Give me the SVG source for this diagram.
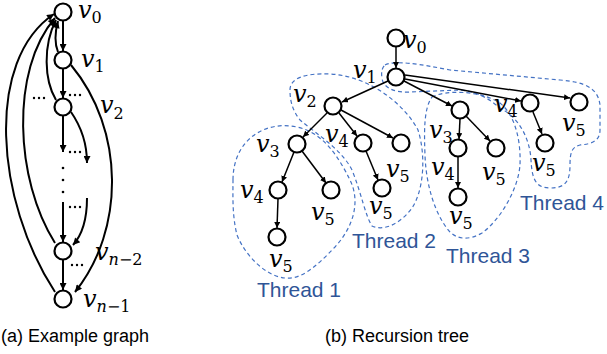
<svg xmlns="http://www.w3.org/2000/svg" width="607" height="354" viewBox="0 0 607 354">
<style>
.n{fill:#fff;stroke:#000;stroke-width:2.2}
.e{fill:none;stroke:#000;stroke-width:2}
.te{fill:none;stroke:#000;stroke-width:1.5}
.v{font-family:"DejaVu Serif",serif;font-style:italic;font-size:24px;fill:#000}
.s{font-style:normal;font-size:16px}
.si{font-style:italic;font-size:16px}
.th{fill:none;stroke:#4472C4;stroke-width:1.2;stroke-dasharray:4 3}
.tl{font-family:"Liberation Sans",Arial,sans-serif;font-size:21px;fill:#2F5597}
.cap{font-family:"Liberation Sans",Arial,sans-serif;font-size:18px;fill:#000}
.dot{fill:#000}
</style>
<defs>
<marker id="a" viewBox="0 0 10 10" refX="10" refY="5" markerWidth="9" markerHeight="7" markerUnits="userSpaceOnUse" orient="auto"><path d="M0,0 L10,5 L0,10 Z" fill="#000"/></marker>
<marker id="b" viewBox="0 0 10 10" refX="10" refY="5" markerWidth="6" markerHeight="6" markerUnits="userSpaceOnUse" orient="auto"><path d="M0,0 L10,5 L0,10 Z" fill="#000"/></marker>
</defs>

<!-- (a) Example graph -->
<g id="connectors-a">
<path class="e" d="M63,21 L63,51" marker-end="url(#a)"/>
<path class="e" d="M63,69 L63,98" marker-end="url(#a)"/>
<path class="e" d="M63,116 L63,152" marker-end="url(#a)"/>
<path class="e" d="M63,202 L63,242" marker-end="url(#a)"/>
<path class="e" d="M63,260 L63,290" marker-end="url(#a)"/>
<path class="e" d="M58,52 C54,42 55,32 58,21" marker-end="url(#a)"/>
<path class="e" d="M56,100 C44,80 43,45 56,20" marker-end="url(#a)"/>
<path class="e" d="M55,243 C15,180 10,70 55,18" marker-end="url(#a)"/>
<path class="e" d="M55,292 C-5,200 -15,60 54,14" marker-end="url(#a)"/>
<path class="e" d="M71,65 C125,130 125,230 75,292" marker-end="url(#a)"/>
<path class="e" d="M71,112 C80,125 87,140 87,163" marker-end="url(#a)"/>
<path class="e" d="M87,198 C87,220 82,235 73,245" marker-end="url(#a)"/>
</g>
<g id="dots-a">
<circle class="dot" cx="34" cy="98" r="1.2"/><circle class="dot" cx="39" cy="98" r="1.2"/><circle class="dot" cx="44" cy="98" r="1.2"/>
<circle class="dot" cx="70" cy="95" r="1.2"/><circle class="dot" cx="75" cy="95" r="1.2"/><circle class="dot" cx="80" cy="95" r="1.2"/>
<circle class="dot" cx="70" cy="152" r="1.2"/><circle class="dot" cx="75" cy="152" r="1.2"/><circle class="dot" cx="80" cy="152" r="1.2"/>
<circle class="dot" cx="63" cy="168" r="1.3"/><circle class="dot" cx="63" cy="180" r="1.3"/><circle class="dot" cx="63" cy="192" r="1.3"/>
<circle class="dot" cx="70" cy="207" r="1.2"/><circle class="dot" cx="75" cy="207" r="1.2"/><circle class="dot" cx="80" cy="207" r="1.2"/>
<circle class="dot" cx="72" cy="265" r="1.2"/><circle class="dot" cx="77" cy="265" r="1.2"/><circle class="dot" cx="82" cy="265" r="1.2"/>
</g>
<g id="a-v0"><circle class="n" cx="63" cy="12" r="8.5"/><text class="v" x="78" y="18">v<tspan class="s" dy="5">0</tspan></text></g>
<g id="a-v1"><circle class="n" cx="63" cy="60" r="8.5"/><text class="v" x="81" y="67">v<tspan class="s" dy="5">1</tspan></text></g>
<g id="a-v2"><circle class="n" cx="63" cy="107" r="8.5"/><text class="v" x="100" y="113">v<tspan class="s" dy="6">2</tspan></text></g>
<g id="a-vn2"><circle class="n" cx="63" cy="251" r="8.5"/><text class="v" x="95" y="260">v<tspan class="si" dy="5">n</tspan><tspan class="s">−2</tspan></text></g>
<g id="a-vn1"><circle class="n" cx="63" cy="299" r="8.5"/><text class="v" x="83" y="307">v<tspan class="si" dy="5">n</tspan><tspan class="s">−1</tspan></text></g>
<text class="cap" x="1" y="342">(a) Example graph</text>

<!-- (b) Recursion tree -->
<g id="threads">
<path class="th" d="M233,180 C233,140 265,120 297,127 C325,133 340,160 350,180 C360,200 355,225 335,247 C315,268 300,280 285,278 C265,276 245,255 237,235 C232,215 233,195 233,180 Z"/>
<path class="th" d="M290,90 C290,78 305,73 330,74 C370,76 405,105 418,130 C426,155 424,190 412,208 C402,222 385,232 372,226 C365,215 362,195 352,170 C342,150 318,135 300,120 C292,110 290,100 290,90 Z"/>
<path class="th" d="M432,97 C445,90 480,90 500,103 C515,115 521,140 520,165 C518,190 500,220 482,233 C470,240 458,240 450,232 C435,215 426,185 425,155 C424,130 424,108 432,97 Z"/>
<path class="th" d="M385,65 C395,60 420,64 450,70 L560,80 C585,82 598,88 600,105 L600,130 C600,142 590,144 580,145 C572,147 570,152 570,165 C570,182 565,188 550,188 C535,188 532,178 531,160 C530,140 520,118 500,108 C490,100 480,92 460,90 L410,92 C395,93 383,88 382,78 C381,72 382,68 385,65 Z"/>
</g>
<g id="connectors-b">
<path class="te" d="M396,47 L396,68" marker-end="url(#b)"/>
<path class="te" d="M388,81 L342,102" marker-end="url(#b)"/>
<path class="te" d="M404,81 L452,106" marker-end="url(#b)"/>
<path class="te" d="M405,79 L521,101" marker-end="url(#b)"/>
<path class="te" d="M405,75 L570,98" marker-end="url(#b)"/>
<path class="te" d="M327,113 L303,137" marker-end="url(#b)"/>
<path class="te" d="M339,113 L357,136" marker-end="url(#b)"/>
<path class="te" d="M341,110 L393,138" marker-end="url(#b)"/>
<path class="te" d="M294,152 L282,182" marker-end="url(#b)"/>
<path class="te" d="M302,151 L326,183" marker-end="url(#b)"/>
<path class="te" d="M278,199 L277,228" marker-end="url(#b)"/>
<path class="te" d="M366,151 L378,180" marker-end="url(#b)"/>
<path class="te" d="M460,119 L459,139" marker-end="url(#b)"/>
<path class="te" d="M466,116 L490,141" marker-end="url(#b)"/>
<path class="te" d="M458,157 L458,188" marker-end="url(#b)"/>
<path class="te" d="M533,112 L542,134" marker-end="url(#b)"/>
</g>
<g id="b-root"><circle class="n" cx="396" cy="38" r="8.5"/><text class="v" x="403" y="48">v<tspan class="s" dy="5">0</tspan></text></g>
<g id="b-v1"><circle class="n" cx="396" cy="77" r="8.5"/><text class="v" x="353" y="78">v<tspan class="s" dy="5">1</tspan></text></g>
<g id="b-v2"><circle class="n" cx="333" cy="106" r="8.5"/><text class="v" x="293" y="102">v<tspan class="s" dy="5">2</tspan></text></g>
<g id="b-t1-v3"><circle class="n" cx="297" cy="144" r="8.5"/><text class="v" x="256" y="152">v<tspan class="s" dy="5">3</tspan></text></g>
<g id="b-t1-v4"><circle class="n" cx="278" cy="190" r="8.5"/><text class="v" x="240" y="198">v<tspan class="s" dy="5">4</tspan></text></g>
<g id="b-t1-v5a"><circle class="n" cx="331" cy="190" r="8.5"/><text class="v" x="311" y="220">v<tspan class="s" dy="5">5</tspan></text></g>
<g id="b-t1-v5b"><circle class="n" cx="277" cy="237" r="8.5"/><text class="v" x="269" y="267">v<tspan class="s" dy="5">5</tspan></text></g>
<g id="b-t2-v4"><circle class="n" cx="363" cy="143" r="8.5"/><text class="v" x="325" y="142">v<tspan class="s" dy="5">4</tspan></text></g>
<g id="b-t2-v5a"><circle class="n" cx="401" cy="143" r="8.5"/><text class="v" x="386" y="177">v<tspan class="s" dy="5">5</tspan></text></g>
<g id="b-t2-v5b"><circle class="n" cx="382" cy="188" r="8.5"/><text class="v" x="369" y="214">v<tspan class="s" dy="5">5</tspan></text></g>
<g id="b-t3-v3"><circle class="n" cx="460" cy="110" r="8.5"/><text class="v" x="429" y="138">v<tspan class="s" dy="5">3</tspan></text></g>
<g id="b-t3-v4"><circle class="n" cx="458" cy="148" r="8.5"/><text class="v" x="431" y="175">v<tspan class="s" dy="5">4</tspan></text></g>
<g id="b-t3-v5a"><circle class="n" cx="496" cy="148" r="8.5"/><text class="v" x="482" y="180">v<tspan class="s" dy="5">5</tspan></text></g>
<g id="b-t3-v5b"><circle class="n" cx="458" cy="197" r="8.5"/><text class="v" x="449" y="224">v<tspan class="s" dy="5">5</tspan></text></g>
<g id="b-t4-v4"><circle class="n" cx="530" cy="103" r="8.5"/><text class="v" x="494" y="112">v<tspan class="s" dy="5">4</tspan></text></g>
<g id="b-t4-v5a"><circle class="n" cx="579" cy="102" r="8.5"/><text class="v" x="562" y="131">v<tspan class="s" dy="5">5</tspan></text></g>
<g id="b-t4-v5b"><circle class="n" cx="545" cy="143" r="8.5"/><text class="v" x="532" y="171">v<tspan class="s" dy="5">5</tspan></text></g>
<text class="tl" x="257" y="297">Thread 1</text>
<text class="tl" x="352" y="248">Thread 2</text>
<text class="tl" x="446" y="263">Thread 3</text>
<text class="tl" x="520" y="210">Thread 4</text>
<text class="cap" x="325" y="342">(b) Recursion tree</text>
</svg>
